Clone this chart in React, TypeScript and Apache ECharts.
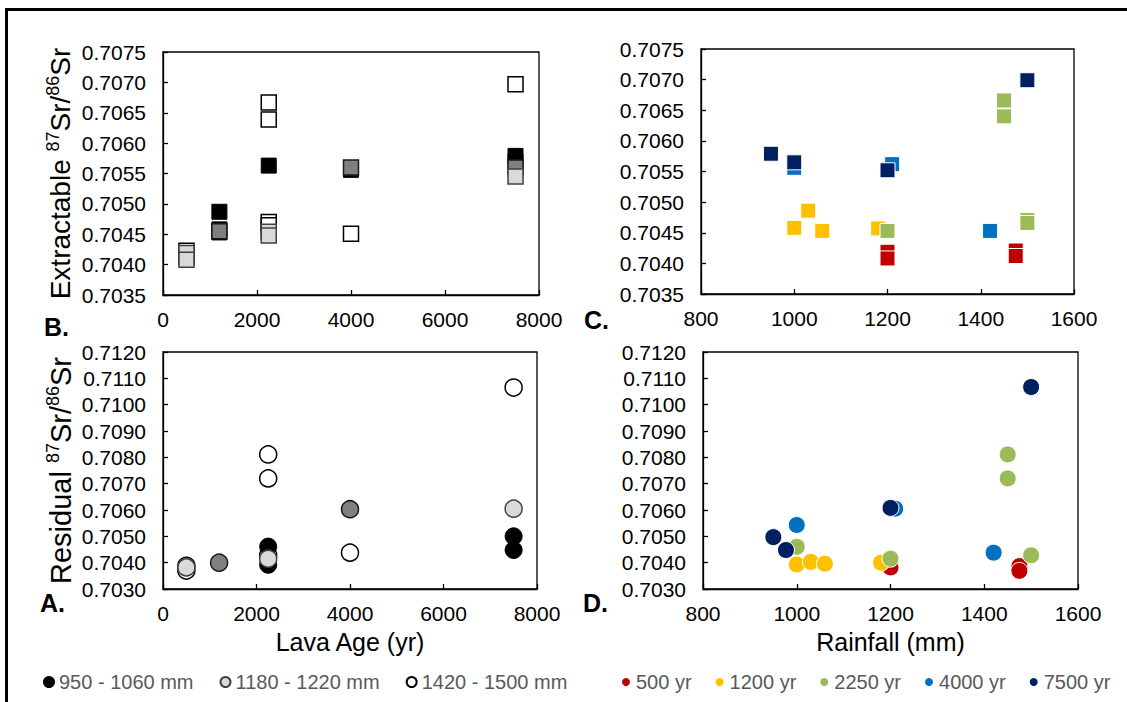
import React, { useEffect, useRef } from "react";
import * as echarts from "echarts";

// ---------- Tick definitions ----------
const AGE_MIN = 0, AGE_MAX = 8000, AGE_STEP = 2000;
const RAIN_MIN = 800, RAIN_MAX = 1600, RAIN_STEP = 200;
const EXT_MIN = 0.7035, EXT_MAX = 0.7075, EXT_STEP = 0.0005;
const RES_MIN = 0.703, RES_MAX = 0.712, RES_STEP = 0.001;

// ---------- Legend names ----------
const rainGroups = ["950 - 1060 mm", "1180 - 1220 mm", "1420 - 1500 mm"];
const ageGroups = ["500 yr", "1200 yr", "2250 yr", "4000 yr", "7500 yr"];

// ---------- Panel B: extractable 87Sr/86Sr vs lava age (yr) ----------
const extAgeLow = [[1200, 0.70487], [1200, 0.70458], [1200, 0.70453], [2250, 0.70563], [4000, 0.70556], [7500, 0.70579], [7500, 0.7057]];
const extAgeMidLight = [[500, 0.70419], [500, 0.70408], [2250, 0.70454], [2250, 0.70448], [7500, 0.70545]];
const extAgeMidDark = [[1200, 0.70455], [4000, 0.7056], [7500, 0.7056]];
const extAgeHigh = [[500, 0.70423], [500, 0.70412], [2250, 0.70667], [2250, 0.70639], [2250, 0.7047], [2250, 0.70465], [4000, 0.70451], [7500, 0.70697]];

// ---------- Panel A: residual 87Sr/86Sr vs lava age (yr) ----------
const resAgeLow = [[2250, 0.70461], [2250, 0.70392], [7500, 0.705], [7500, 0.70448]];
const resAgeMidLight = [[500, 0.70382], [2250, 0.70415], [7500, 0.70605]];
const resAgeMidDark = [[1200, 0.704], [4000, 0.70603]];
const resAgeHigh = [[500, 0.70388], [500, 0.7037], [2250, 0.70811], [2250, 0.7072], [2250, 0.70428], [4000, 0.70438], [7500, 0.71065]];

// ---------- Panel C: extractable 87Sr/86Sr vs rainfall (mm) ----------
const ext500 = [[1200, 0.70419], [1200, 0.70408], [1475, 0.70421], [1475, 0.70412]];
const ext1200 = [[1000, 0.70458], [1030, 0.70486], [1060, 0.70453], [1180, 0.70457]];
const ext2250 = [[1200, 0.70453], [1450, 0.70666], [1450, 0.7064], [1500, 0.70471], [1500, 0.70466]];
const ext4000 = [[1000, 0.70556], [1210, 0.70562], [1420, 0.70453]];
const ext7500 = [[950, 0.70579], [1000, 0.70565], [1200, 0.70552], [1500, 0.70699]];

// ---------- Panel D: residual 87Sr/86Sr vs rainfall (mm) ----------
const res500 = [[1200, 0.70382], [1475, 0.70387], [1475, 0.70369]];
const res1200 = [[1000, 0.70393], [1030, 0.70403], [1060, 0.70396], [1180, 0.704]];
const res2250 = [[1000, 0.7046], [1200, 0.70415], [1450, 0.70811], [1450, 0.7072], [1500, 0.70428]];
const res4000 = [[1000, 0.70543], [1210, 0.70605], [1420, 0.70438]];
const res7500 = [[950, 0.70497], [977, 0.70448], [1200, 0.70608], [1500, 0.71067]];

const ageColors = ["#C00000", "#FFC000", "#9BBB59", "#0070C0", "#002060"];

const FONT = "'Liberation Sans', Arial, sans-serif";

export default function App() {
  const ref = useRef<HTMLDivElement>(null);

  useEffect(() => {
    if (!ref.current) return;
    const chart = echarts.init(ref.current, null, { renderer: "svg" });

    const axisCommon = {
      axisLine: { show: true, lineStyle: { color: "#000", width: 1.3 } },
      axisTick: { show: true, inside: true, length: 5, lineStyle: { color: "#000", width: 1.3 } },
      splitLine: { show: false },
    };
    const xLabel = {
      color: "#000", fontSize: 21, fontFamily: FONT, margin: 14,
      formatter: (v: number) => String(v),
    };
    const yLabel = {
      color: "#000", fontSize: 21, fontFamily: FONT, margin: 17,
      formatter: (v: number) => v.toFixed(4),
    };
    const yName = (txt: string, size: number, gap: number) => ({
      name: txt + " {sup|87}Sr/{sup|86}Sr",
      nameLocation: "middle",
      nameGap: gap,
      nameTextStyle: {
        fontSize: size, fontFamily: FONT, color: "#000", lineHeight: size + 4,
        rich: {
          sup: { fontSize: Math.round(size * 0.63), fontFamily: FONT, color: "#000", verticalAlign: "top", lineHeight: size },
        },
      },
    });

    const grids = [
      { left: 163, top: 52, width: 376, height: 243 }, // B
      { left: 701, top: 49, width: 373, height: 245 }, // C
      { left: 163, top: 352, width: 374, height: 237 }, // A
      { left: 703, top: 352, width: 375, height: 237 }, // D
    ].map((g) => ({ ...g, show: true, borderColor: "#000", borderWidth: 1.3, backgroundColor: "transparent" }));

    const xTitleStyle = { fontSize: 25, fontFamily: FONT, color: "#000" };
    const xAxes = [
      { gridIndex: 0, type: "value", min: AGE_MIN, max: AGE_MAX, interval: AGE_STEP, ...axisCommon, axisLabel: xLabel },
      { gridIndex: 1, type: "value", min: RAIN_MIN, max: RAIN_MAX, interval: RAIN_STEP, ...axisCommon, axisLabel: xLabel },
      {
        gridIndex: 2, type: "value", min: AGE_MIN, max: AGE_MAX, interval: AGE_STEP, ...axisCommon, axisLabel: xLabel,
        name: "Lava Age (yr)", nameLocation: "middle", nameGap: 40, nameTextStyle: xTitleStyle,
      },
      {
        gridIndex: 3, type: "value", min: RAIN_MIN, max: RAIN_MAX, interval: RAIN_STEP, ...axisCommon, axisLabel: xLabel,
        name: "Rainfall (mm)", nameLocation: "middle", nameGap: 40, nameTextStyle: xTitleStyle,
      },
    ];
    const yAxes = [
      { gridIndex: 0, type: "value", min: EXT_MIN, max: EXT_MAX, interval: EXT_STEP, ...axisCommon, axisLabel: yLabel, ...yName("Extractable", 28, 87) },
      { gridIndex: 1, type: "value", min: EXT_MIN, max: EXT_MAX, interval: EXT_STEP, ...axisCommon, axisLabel: yLabel },
      { gridIndex: 2, type: "value", min: RES_MIN, max: RES_MAX, interval: RES_STEP, ...axisCommon, axisLabel: yLabel, ...yName("Residual", 29, 86) },
      { gridIndex: 3, type: "value", min: RES_MIN, max: RES_MAX, interval: RES_STEP, ...axisCommon, axisLabel: yLabel },
    ];

    const grayStyles = {
      high: { color: "#ffffff", borderColor: "#000", borderWidth: 1.5, opacity: 1 },
      low: { color: "#000000", borderColor: "#000", borderWidth: 1, opacity: 1 },
      dark: { color: "#7f7f7f", borderColor: "#1a1a1a", borderWidth: 1.5, opacity: 1 },
      light: { color: "#d9d9d9", borderColor: "#404040", borderWidth: 1.5, opacity: 1 },
    };

    const grayPanel = (axis: number, symbol: string, size: number, high: number[][], low: number[][], dark: number[][], light: number[][]) => [
      { name: rainGroups[2], type: "scatter", xAxisIndex: axis, yAxisIndex: axis, symbol, symbolSize: size, data: high, itemStyle: grayStyles.high },
      { name: rainGroups[0], type: "scatter", xAxisIndex: axis, yAxisIndex: axis, symbol, symbolSize: size, data: low, itemStyle: grayStyles.low },
      { name: "1180 - 1220 mm (darker)", type: "scatter", xAxisIndex: axis, yAxisIndex: axis, symbol, symbolSize: size, data: dark, itemStyle: grayStyles.dark },
      { name: rainGroups[1], type: "scatter", xAxisIndex: axis, yAxisIndex: axis, symbol, symbolSize: size, data: light, itemStyle: grayStyles.light },
    ];

    const colorPanel = (axis: number, symbol: string, size: number, sets: number[][][]) =>
      sets.map((d, i) => ({
        name: ageGroups[i], type: "scatter", xAxisIndex: axis, yAxisIndex: axis, symbol, symbolSize: size, data: d,
        itemStyle: { color: ageColors[i], borderColor: "#ffffff", borderWidth: 1, opacity: 1 },
      }));

    const series = [
      ...grayPanel(0, "rect", 15, extAgeHigh, extAgeLow, extAgeMidDark, extAgeMidLight),
      ...colorPanel(1, "rect", 15, [ext500, ext1200, ext2250, ext4000, ext7500]),
      ...grayPanel(2, "circle", 17, resAgeHigh, resAgeLow, resAgeMidDark, resAgeMidLight),
      ...colorPanel(3, "circle", 17, [res500, res1200, res2250, res4000, res7500]),
    ];

    const panelLabel = (text: string, x: number, y: number) => ({
      type: "text", left: x, top: y,
      style: { text, font: `bold 25px ${FONT}`, fill: "#000" },
    });

    chart.setOption({
      animation: false,
      backgroundColor: "#ffffff",
      textStyle: { fontFamily: FONT },
      grid: grids,
      xAxis: xAxes,
      yAxis: yAxes,
      legend: [
        {
          left: 38, top: 667, icon: "circle", itemWidth: 10, itemHeight: 10, itemGap: 26,
          data: rainGroups, textStyle: { fontSize: 20, color: "#595959", fontFamily: FONT },
        },
        {
          left: 615, top: 667, icon: "circle", itemWidth: 10, itemHeight: 10, itemGap: 22,
          data: ageGroups, textStyle: { fontSize: 20, color: "#595959", fontFamily: FONT },
        },
      ],
      graphic: [
        { type: "line", shape: { x1: 5, y1: 9.5, x2: 1127, y2: 9.5 }, style: { stroke: "#000", lineWidth: 3 } },
        { type: "line", shape: { x1: 6.5, y1: 8, x2: 6.5, y2: 702 }, style: { stroke: "#000", lineWidth: 3 } },
        panelLabel("B.", 44, 314),
        panelLabel("C.", 584, 307),
        panelLabel("A.", 40, 590),
        panelLabel("D.", 583, 590),
      ],
      series,
    });

    return () => chart.dispose();
  }, []);

  return (
    <div
      ref={ref}
      style={{ position: "fixed", left: 0, top: 0, width: 1127, height: 702, background: "#fff" }}
    />
  );
}
